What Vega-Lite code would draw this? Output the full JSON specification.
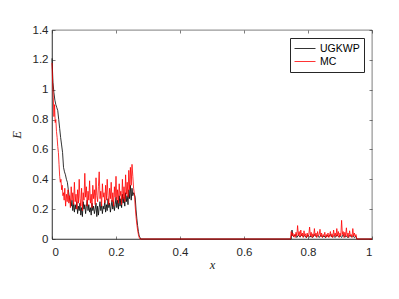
{
  "$schema": "https://vega.github.io/schema/vega-lite/v6.json",
  "width": 320,
  "height": 209,
  "autosize": {"type": "none"},
  "padding": {"left": 52, "top": 30, "right": 27, "bottom": 60},
  "background": "white",
  "config": {
    "view": {"stroke": "#262626", "strokeWidth": 0.6},
    "axis": {
      "grid": false,
      "domainColor": "#262626",
      "domainWidth": 0.6,
      "tickColor": "#262626",
      "tickWidth": 0.6,
      "tickSize": -3,
      "labelFont": "Liberation Sans",
      "labelFontSize": 11.5,
      "labelColor": "#262626",
      "titleFont": "Liberation Serif",
      "titleFontStyle": "italic",
      "titleFontWeight": "normal",
      "titleFontSize": 12.5,
      "titleColor": "#262626"
    },
    "line": {"strokeWidth": 0.8, "interpolate": "linear"}
  },
  "resolve": {"axis": {"x": "independent", "y": "independent"}},
  "layer": [
    {
      "data": {"values": [
        {"x":0.000,"E":1.21},{"x":0.003,"E":1.05},{"x":0.006,"E":0.98},{"x":0.009,"E":0.93},{"x":0.012,"E":0.90},{"x":0.015,"E":0.88},{"x":0.018,"E":0.86},{"x":0.021,"E":0.80},{"x":0.024,"E":0.74},{"x":0.027,"E":0.68},{"x":0.030,"E":0.63},{"x":0.033,"E":0.58},{"x":0.036,"E":0.48},{"x":0.039,"E":0.45},{"x":0.042,"E":0.43},{"x":0.045,"E":0.40},{"x":0.048,"E":0.38},{"x":0.051,"E":0.33},{"x":0.054,"E":0.28},{"x":0.057,"E":0.25},
        {"x":0.0600,"E":0.22},{"x":0.0625,"E":0.26},{"x":0.0650,"E":0.19},{"x":0.0675,"E":0.24},{"x":0.0700,"E":0.18},{"x":0.0725,"E":0.23},{"x":0.0750,"E":0.20},{"x":0.0775,"E":0.25},{"x":0.0800,"E":0.17},{"x":0.0825,"E":0.22},{"x":0.0850,"E":0.19},{"x":0.0875,"E":0.24},{"x":0.0900,"E":0.16},{"x":0.0925,"E":0.21},{"x":0.0950,"E":0.15},{"x":0.0975,"E":0.25},{"x":0.1000,"E":0.20},{"x":0.1025,"E":0.23},{"x":0.1050,"E":0.17},{"x":0.1075,"E":0.22},{"x":0.1100,"E":0.26},{"x":0.1125,"E":0.19},{"x":0.1150,"E":0.23},{"x":0.1175,"E":0.18},{"x":0.1200,"E":0.21},{"x":0.1225,"E":0.16},{"x":0.1250,"E":0.24},{"x":0.1275,"E":0.19},{"x":0.1300,"E":0.22},{"x":0.1325,"E":0.17},{"x":0.1350,"E":0.20},{"x":0.1375,"E":0.24},{"x":0.1400,"E":0.15},{"x":0.1425,"E":0.22},{"x":0.1450,"E":0.16},{"x":0.1475,"E":0.21},{"x":0.1500,"E":0.25},{"x":0.1525,"E":0.19},{"x":0.1550,"E":0.23},{"x":0.1575,"E":0.17},{"x":0.1600,"E":0.22},{"x":0.1625,"E":0.20},{"x":0.1650,"E":0.26},{"x":0.1675,"E":0.18},{"x":0.1700,"E":0.23},{"x":0.1725,"E":0.19},{"x":0.1750,"E":0.27},{"x":0.1775,"E":0.21},{"x":0.1800,"E":0.24},{"x":0.1825,"E":0.18},{"x":0.1850,"E":0.22},{"x":0.1875,"E":0.26},{"x":0.1900,"E":0.20},{"x":0.1925,"E":0.25},{"x":0.1950,"E":0.19},{"x":0.1975,"E":0.23},{"x":0.2000,"E":0.28},{"x":0.2025,"E":0.21},{"x":0.2050,"E":0.26},{"x":0.2075,"E":0.20},{"x":0.2100,"E":0.29},{"x":0.2125,"E":0.22},{"x":0.2150,"E":0.27},{"x":0.2175,"E":0.21},{"x":0.2200,"E":0.30},{"x":0.2225,"E":0.24},{"x":0.2250,"E":0.28},{"x":0.2275,"E":0.22},{"x":0.2300,"E":0.31},{"x":0.2325,"E":0.25},{"x":0.2350,"E":0.29},{"x":0.2375,"E":0.23},{"x":0.2400,"E":0.33},{"x":0.2425,"E":0.27},{"x":0.2450,"E":0.36},{"x":0.2475,"E":0.26},{"x":0.2500,"E":0.34},{"x":0.2525,"E":0.29},{"x":0.2550,"E":0.31},{"x":0.2575,"E":0.30},{"x":0.2600,"E":0.28},{"x":0.2625,"E":0.20},{"x":0.2650,"E":0.14},{"x":0.2675,"E":0.09},{"x":0.2700,"E":0.05},{"x":0.2725,"E":0.02},{"x":0.2750,"E":0.01},{"x":0.2775,"E":0},
        {"x":0.7475,"E":0},{"x":0.7500,"E":0.06},{"x":0.7525,"E":0.02},{"x":0.755,"E":0.015},{"x":0.760,"E":0.03},{"x":0.765,"E":0.01},{"x":0.770,"E":0.025},{"x":0.775,"E":0.012},{"x":0.780,"E":0.03},{"x":0.785,"E":0.015},{"x":0.790,"E":0.022},{"x":0.795,"E":0.008},{"x":0.800,"E":0.028},{"x":0.805,"E":0.012},{"x":0.810,"E":0.02},{"x":0.815,"E":0.01},{"x":0.820,"E":0.03},{"x":0.825,"E":0.015},{"x":0.830,"E":0.022},{"x":0.835,"E":0.01},{"x":0.840,"E":0.026},{"x":0.845,"E":0.012},{"x":0.850,"E":0.02},{"x":0.855,"E":0.008},{"x":0.860,"E":0.025},{"x":0.865,"E":0.015},{"x":0.870,"E":0.03},{"x":0.875,"E":0.012},{"x":0.880,"E":0.02},{"x":0.885,"E":0.01},{"x":0.890,"E":0.028},{"x":0.895,"E":0.015},{"x":0.900,"E":0.022},{"x":0.905,"E":0.01},{"x":0.910,"E":0.03},{"x":0.915,"E":0.012},{"x":0.920,"E":0.02},{"x":0.925,"E":0.008},{"x":0.930,"E":0.025},{"x":0.935,"E":0.015},{"x":0.940,"E":0.02},{"x":0.945,"E":0.01},{"x":0.950,"E":0.018},{"x":0.9525,"E":0},{"x":1.0,"E":0}
      ]},
      "mark": {"type": "line"},
      "encoding": {
        "x": {"field": "x", "type": "quantitative", "scale": {"domain": [0, 1], "nice": false, "zero": false},
              "axis": {"title": "x", "values": [0,0.2,0.4,0.6,0.8,1], "format": "~f", "labelPadding": 10.5, "titlePadding": 0}},
        "y": {"field": "E", "type": "quantitative", "scale": {"domain": [0, 1.4], "nice": false},
              "axis": {"title": "E", "values": [0,0.2,0.4,0.6,0.8,1,1.2,1.4], "format": "~f", "labelPadding": 7, "titlePadding": 9}},
        "color": {"datum": "UGKWP", "type": "nominal",
          "scale": {"domain": ["UGKWP", "MC"], "range": ["#000000", "#ff0000"]},
          "legend": {"title": null, "orient": "none", "legendX": 238, "legendY": 8, "symbolType": "stroke", "symbolSize": 441, "symbolStrokeWidth": 0.8,
            "labelFont": "Liberation Sans", "labelFontSize": 10.5, "labelColor": "#000000", "labelOffset": 4, "padding": 4, "rowPadding": 0, "clipHeight": 13, "strokeColor": "#262626", "fillColor": "white", "cornerRadius": 0}}
      }
    },
    {
      "data": {"values": [
        {"x":0.000,"E":1.18},{"x":0.002,"E":1.05},{"x":0.004,"E":0.95},{"x":0.006,"E":0.82},{"x":0.008,"E":0.90},{"x":0.010,"E":0.78},{"x":0.012,"E":0.80},{"x":0.014,"E":0.72},{"x":0.016,"E":0.68},{"x":0.018,"E":0.62},{"x":0.020,"E":0.58},{"x":0.022,"E":0.50},{"x":0.024,"E":0.42},{"x":0.026,"E":0.38},{"x":0.028,"E":0.40},{"x":0.030,"E":0.33},{"x":0.032,"E":0.36},{"x":0.034,"E":0.29},{"x":0.036,"E":0.31},{"x":0.038,"E":0.26},
        {"x":0.0400,"E":0.34},{"x":0.0425,"E":0.22},{"x":0.0450,"E":0.30},{"x":0.0475,"E":0.25},{"x":0.0500,"E":0.33},{"x":0.0525,"E":0.24},{"x":0.0550,"E":0.29},{"x":0.0575,"E":0.21},{"x":0.0600,"E":0.35},{"x":0.0625,"E":0.26},{"x":0.0650,"E":0.31},{"x":0.0675,"E":0.23},{"x":0.0700,"E":0.38},{"x":0.0725,"E":0.25},{"x":0.0750,"E":0.30},{"x":0.0775,"E":0.20},{"x":0.0800,"E":0.33},{"x":0.0825,"E":0.24},{"x":0.0850,"E":0.40},{"x":0.0875,"E":0.27},{"x":0.0900,"E":0.22},{"x":0.0925,"E":0.34},{"x":0.0950,"E":0.19},{"x":0.0975,"E":0.31},{"x":0.1000,"E":0.26},{"x":0.1025,"E":0.44},{"x":0.1050,"E":0.28},{"x":0.1075,"E":0.35},{"x":0.1100,"E":0.22},{"x":0.1125,"E":0.32},{"x":0.1150,"E":0.26},{"x":0.1175,"E":0.39},{"x":0.1200,"E":0.24},{"x":0.1225,"E":0.30},{"x":0.1250,"E":0.21},{"x":0.1275,"E":0.36},{"x":0.1300,"E":0.27},{"x":0.1325,"E":0.33},{"x":0.1350,"E":0.23},{"x":0.1375,"E":0.41},{"x":0.1400,"E":0.29},{"x":0.1425,"E":0.25},{"x":0.1450,"E":0.35},{"x":0.1475,"E":0.45},{"x":0.1500,"E":0.27},{"x":0.1525,"E":0.32},{"x":0.1550,"E":0.22},{"x":0.1575,"E":0.37},{"x":0.1600,"E":0.28},{"x":0.1625,"E":0.31},{"x":0.1650,"E":0.24},{"x":0.1675,"E":0.36},{"x":0.1700,"E":0.26},{"x":0.1725,"E":0.40},{"x":0.1750,"E":0.29},{"x":0.1775,"E":0.23},{"x":0.1800,"E":0.34},{"x":0.1825,"E":0.27},{"x":0.1850,"E":0.38},{"x":0.1875,"E":0.25},{"x":0.1900,"E":0.31},{"x":0.1925,"E":0.22},{"x":0.1950,"E":0.35},{"x":0.1975,"E":0.28},{"x":0.2000,"E":0.42},{"x":0.2025,"E":0.26},{"x":0.2050,"E":0.33},{"x":0.2075,"E":0.24},{"x":0.2100,"E":0.37},{"x":0.2125,"E":0.29},{"x":0.2150,"E":0.32},{"x":0.2175,"E":0.23},{"x":0.2200,"E":0.40},{"x":0.2225,"E":0.27},{"x":0.2250,"E":0.35},{"x":0.2275,"E":0.25},{"x":0.2300,"E":0.43},{"x":0.2325,"E":0.30},{"x":0.2350,"E":0.38},{"x":0.2375,"E":0.28},{"x":0.2400,"E":0.46},{"x":0.2425,"E":0.33},{"x":0.2450,"E":0.48},{"x":0.2475,"E":0.36},{"x":0.2500,"E":0.50},{"x":0.2525,"E":0.42},{"x":0.2550,"E":0.34},{"x":0.2575,"E":0.30},{"x":0.2600,"E":0.22},{"x":0.2625,"E":0.15},{"x":0.2650,"E":0.10},{"x":0.2675,"E":0.06},{"x":0.2700,"E":0.03},{"x":0.2725,"E":0.01},{"x":0.2750,"E":0},
        {"x":0.7450,"E":0},{"x":0.7475,"E":0.05},{"x":0.7500,"E":0.02},{"x":0.7525,"E":0.04},{"x":0.7550,"E":0.015},{"x":0.7575,"E":0.03},{"x":0.7600,"E":0.01},{"x":0.7625,"E":0.045},{"x":0.7650,"E":0.02},{"x":0.7675,"E":0.09},{"x":0.7700,"E":0.025},{"x":0.7725,"E":0.05},{"x":0.7750,"E":0.015},{"x":0.7775,"E":0.06},{"x":0.7800,"E":0.02},{"x":0.7825,"E":0.04},{"x":0.7850,"E":0.01},{"x":0.7875,"E":0.055},{"x":0.7900,"E":0.02},{"x":0.7925,"E":0.035},{"x":0.7950,"E":0.01},{"x":0.7975,"E":0.04},{"x":0.8000,"E":0.015},{"x":0.8025,"E":0.03},{"x":0.8050,"E":0.08},{"x":0.8075,"E":0.02},{"x":0.8100,"E":0.045},{"x":0.8125,"E":0.01},{"x":0.8150,"E":0.035},{"x":0.8175,"E":0.015},{"x":0.8200,"E":0.07},{"x":0.8225,"E":0.02},{"x":0.8250,"E":0.04},{"x":0.8275,"E":0.01},{"x":0.8300,"E":0.05},{"x":0.8325,"E":0.02},{"x":0.8350,"E":0.03},{"x":0.8375,"E":0.065},{"x":0.8400,"E":0.015},{"x":0.8425,"E":0.04},{"x":0.8450,"E":0.01},{"x":0.8475,"E":0.03},{"x":0.8500,"E":0.02},{"x":0.8525,"E":0.045},{"x":0.8550,"E":0.01},{"x":0.8575,"E":0.03},{"x":0.8600,"E":0.015},{"x":0.8625,"E":0.04},{"x":0.8650,"E":0.01},{"x":0.8675,"E":0.025},{"x":0.8700,"E":0.05},{"x":0.8725,"E":0.015},{"x":0.8750,"E":0.035},{"x":0.8775,"E":0.01},{"x":0.8800,"E":0.06},{"x":0.8825,"E":0.02},{"x":0.8850,"E":0.04},{"x":0.8875,"E":0.015},{"x":0.8900,"E":0.07},{"x":0.8925,"E":0.02},{"x":0.8950,"E":0.05},{"x":0.8975,"E":0.01},{"x":0.9000,"E":0.04},{"x":0.9025,"E":0.02},{"x":0.9050,"E":0.125},{"x":0.9075,"E":0.03},{"x":0.9100,"E":0.05},{"x":0.9125,"E":0.01},{"x":0.9150,"E":0.045},{"x":0.9175,"E":0.02},{"x":0.9200,"E":0.075},{"x":0.9225,"E":0.015},{"x":0.9250,"E":0.04},{"x":0.9275,"E":0.01},{"x":0.9300,"E":0.055},{"x":0.9325,"E":0.02},{"x":0.9350,"E":0.03},{"x":0.9375,"E":0.01},{"x":0.9400,"E":0.07},{"x":0.9425,"E":0.02},{"x":0.9450,"E":0.04},{"x":0.9475,"E":0.015},{"x":0.9500,"E":0.03},{"x":0.9525,"E":0},{"x":1.0,"E":0}
      ]},
      "mark": {"type": "line"},
      "encoding": {
        "x": {"field": "x", "type": "quantitative", "scale": {"domain": [0, 1], "nice": false, "zero": false},
              "axis": {"orient": "top", "title": null, "labels": false, "domain": false, "values": [0,0.2,0.4,0.6,0.8,1]}},
        "y": {"field": "E", "type": "quantitative", "scale": {"domain": [0, 1.4], "nice": false},
              "axis": {"orient": "right", "title": null, "labels": false, "domain": false, "values": [0,0.2,0.4,0.6,0.8,1,1.2,1.4]}},
        "color": {"datum": "MC", "type": "nominal"}
      }
    }
  ]
}
